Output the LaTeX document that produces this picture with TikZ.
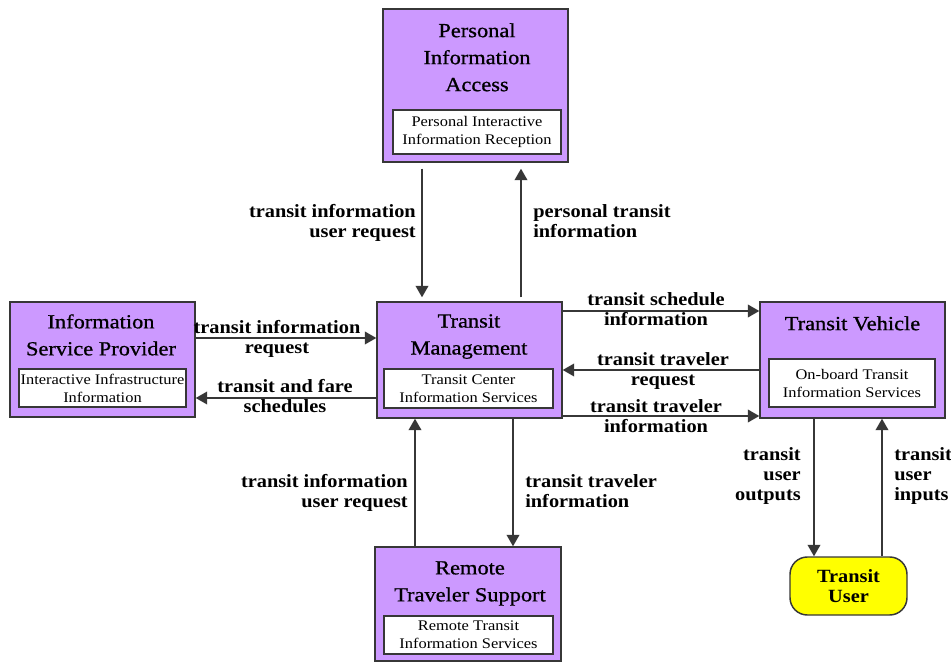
\documentclass[tikz,border=0pt]{standalone}
\usepackage{fontspec}
\setmainfont{Liberation Serif}
\newfontfamily\titlefont[FakeStretch=1.12,FakeBold=0.8]{Liberation Serif}
\newfontfamily\flowfont[FakeStretch=1.09]{Liberation Serif}
\newfontfamily\servfont[FakeStretch=1.12]{Liberation Serif}
\usetikzlibrary{arrows.meta}
\definecolor{lav}{RGB}{204,153,255}
\definecolor{edgegray}{RGB}{55,55,55}
\definecolor{tuyellow}{RGB}{255,255,0}
\tikzset{
  outerbox/.style={draw=edgegray, line width=1.1pt, fill=lav, inner sep=0pt},
  servbox/.style={draw=edgegray, line width=0.9pt, fill=white, inner sep=0pt,
    align=center, font=\servfont\fontsize{11}{13.5}\selectfont},
  titletext/.style={inner sep=0pt, align=center, anchor=north,
    font=\titlefont\fontsize{15}{20.25}\selectfont},
  flowtext/.style={inner sep=0pt, font=\flowfont\bfseries\fontsize{14}{15}\selectfont},
  flow/.style={draw=edgegray, line width=1pt, -{Triangle[length=8.5pt,width=9.5pt]}},
}
\begin{document}
\begin{tikzpicture}[x=0.75pt,y=-0.75pt]
\useasboundingbox (0,0) rectangle (951,663);

% ---- Personal Information Access ----
\node[outerbox, minimum width=138.75pt, minimum height=114.75pt] (pia) at (475.5,85.5) {};
\node[titletext] (piaT) at (477,23) {Personal\\Information\\Access};
\node[servbox, minimum width=126pt, minimum height=33pt] (piaS) at (477,132)
  {Personal Interactive\\Information Reception};

% ---- Information Service Provider ----
\node[outerbox, minimum width=138.75pt, minimum height=86.25pt] (isp) at (102.5,359.5) {};
\node[titletext] (ispT) at (101,314) {Information\\Service Provider};
\node[servbox, minimum width=125.25pt, minimum height=28.5pt] (ispS) at (102.5,388)
  {Interactive Infrastructure\\Information};

% ---- Transit Management ----
\node[outerbox, minimum width=138.75pt, minimum height=87pt] (tm) at (469.5,360) {};
\node[titletext] (tmT) at (469,314) {Transit\\Management};
\node[servbox, minimum width=126.75pt, minimum height=29.25pt] (tmS) at (468.5,388.5)
  {Transit Center\\Information Services};

% ---- Transit Vehicle ----
\node[outerbox, minimum width=138.75pt, minimum height=87pt] (tv) at (852.5,360) {};
\node[titletext] (tvT) at (852.5,316) {Transit Vehicle};
\node[servbox, minimum width=124.5pt, minimum height=36pt] (tvS) at (852,383)
  {On-board Transit\\Information Services};

% ---- Remote Traveler Support ----
\node[outerbox, minimum width=139.5pt, minimum height=85.5pt] (rts) at (468,604) {};
\node[titletext] (rtsT) at (470,561) {Remote\\Traveler Support};
\node[servbox, minimum width=126.75pt, minimum height=28.5pt] (rtsS) at (468.5,635)
  {Remote Transit\\Information Services};

% ---- Transit User ----
\node[draw=edgegray, line width=1.1pt, fill=tuyellow, rounded corners=13pt,
  minimum width=87.75pt, minimum height=43.5pt, align=center,
  font=\flowfont\bfseries\fontsize{14}{15.5}\selectfont] (tu) at (848.5,586) {Transit\\User};

% ---- connector positions ----
\coordinate (xPiaDown) at (422,0);
\coordinate (xPiaUp) at (521,0);
\coordinate (xRtsUp) at (415,0);
\coordinate (xRtsDown) at (513,0);
\coordinate (xTuDown) at (814,0);
\coordinate (xTuUp) at (882,0);
\coordinate (yIspIn) at (0,338);
\coordinate (yIspOut) at (0,398);
\coordinate (yTvOutA) at (0,311);
\coordinate (yTvIn) at (0,370);
\coordinate (yTvOutB) at (0,416);

% ---- flows ----
\draw[flow, shorten <=4.5pt, shorten >=3pt] (pia.south -| xPiaDown) -- (tm.north -| xPiaDown);
\draw[flow, shorten <=3pt, shorten >=4.5pt] (tm.north -| xPiaUp) -- (pia.south -| xPiaUp);
\draw[flow] (isp.east |- yIspIn) -- (tm.west |- yIspIn);
\draw[flow] (tm.west |- yIspOut) -- (isp.east |- yIspOut);
\draw[flow] (tm.east |- yTvOutA) -- (tv.west |- yTvOutA);
\draw[flow] (tv.west |- yTvIn) -- (tm.east |- yTvIn);
\draw[flow] (tm.east |- yTvOutB) -- (tv.west |- yTvOutB);
\draw[flow] (rts.north -| xRtsUp) -- (tm.south -| xRtsUp);
\draw[flow] (tm.south -| xRtsDown) -- (rts.north -| xRtsDown);
\draw[flow] (tv.south -| xTuDown) -- (tu.north -| xTuDown);
\draw[flow] (tu.north -| xTuUp) -- (tv.south -| xTuUp);

% ---- flow labels ----
\node[flowtext, align=right, anchor=north east] (l1) at (416,204) {transit information\\user request};
\node[flowtext, align=left, anchor=north west] (l2) at (533,204) {personal transit\\information};
\node[flowtext, align=center, anchor=north] (l3) at (277,320) {transit information\\request};
\node[flowtext, align=center, anchor=north] (l4) at (285,379) {transit and fare\\schedules};
\node[flowtext, align=center, anchor=north] (l5) at (656,292) {transit schedule\\information};
\node[flowtext, align=center, anchor=north] (l6) at (663,352) {transit traveler\\request};
\node[flowtext, align=center, anchor=north] (l7) at (656,399) {transit traveler\\information};
\node[flowtext, align=right, anchor=north east] (l8) at (408,474) {transit information\\user request};
\node[flowtext, align=left, anchor=north west] (l9) at (525,474) {transit traveler\\information};
\node[flowtext, align=right, anchor=north east] (l10) at (801,447) {transit\\user\\outputs};
\node[flowtext, align=left, anchor=north west] (l11) at (894,447) {transit\\user\\inputs};
\end{tikzpicture}
\end{document}
